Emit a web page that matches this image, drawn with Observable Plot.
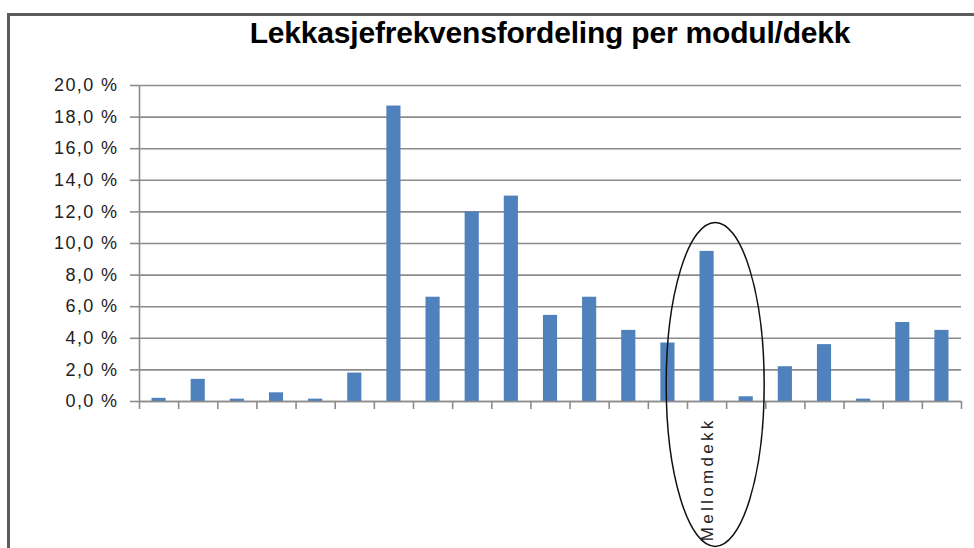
<!DOCTYPE html>
<html>
<head>
<meta charset="utf-8">
<script src="https://cdn.jsdelivr.net/npm/d3@7"></script>
<script src="https://cdn.jsdelivr.net/npm/@observablehq/plot@0.6"></script>
<style>
  body { margin: 0; background: #fff; }
  #wrap { position: relative; width: 974px; height: 548px; overflow: hidden; background: #fff; }
  #frame { position: absolute; left: 7px; top: 13px; width: 1000px; height: 600px;
           border-top: 3px solid #5c5c5c; border-left: 3px solid #5c5c5c; pointer-events: none; }
  #title { box-sizing: border-box; height: 60px; padding: 16px 13px 0 139px; text-align: center;
           font-family: "Liberation Sans", sans-serif; font-weight: bold;
           font-size: 30px; line-height: 1.15; color: #000; white-space: nowrap; letter-spacing: -0.2px; }
  svg { display: block; }
  g[aria-label="y-axis tick label"] text { letter-spacing: 1.4px; }
  g[aria-label="text"] text { letter-spacing: 3.3px; }
</style>
</head>
<body>
<div id="wrap">
  <div id="title">Lekkasjefrekvensfordeling per modul/dekk</div>
  <div id="chart"></div>
  <div id="frame"></div>
</div>
<script>
// Data (share of leak frequency per module/deck, in %)
const categoryIndex = [0,1,2,3,4,5,6,7,8,9,10,11,12,13,14,15,16,17,18,19,20];
const values = [0.2, 1.4, 0.15, 0.55, 0.15, 1.8, 18.7, 6.6, 12.0, 13.0, 5.45, 6.6, 4.5, 3.7, 9.5, 0.3, 2.2, 3.6, 0.15, 5.0, 4.5];
const tickLabels = ["", "", "", "", "", "", "", "", "", "", "", "", "", "", "Mellomdekk", "", "", "", "", "", ""];
const yTicks = [0, 2, 4, 6, 8, 10, 12, 14, 16, 18, 20];
const bandEdges = [0,1,2,3,4,5,6,7,8,9,10,11,12,13,14,15,16,17,18,19,20,21];
// Annotation: ellipse around "Mellomdekk"
const ellipseAt = {i: 14.72, v: 1.05};

const data = categoryIndex.map((i) => ({i, v: values[i], label: tickLabels[i]}));
const labelled = data.filter((d) => d.label !== "");

const gray = "#8c8c8c";
const fmt = (d) => d.toFixed(1).replace(".", ",") + " %";

const plot = Plot.plot({
  width: 974,
  height: 488,
  marginTop: 25,
  marginBottom: 147,
  marginLeft: 139,
  marginRight: 13,
  style: {fontFamily: "Liberation Sans, sans-serif", fontSize: "18px", color: "#222", background: "#fff"},
  x: {type: "linear", domain: [0, 21]},
  y: {domain: [0, 20]},
  marks: [
    Plot.gridY(yTicks, {stroke: gray, strokeOpacity: 1, strokeWidth: 1.6}),
    Plot.axisY({ticks: yTicks, tickSize: 9, tickPadding: 12, tickFormat: fmt, fontSize: 18,
                stroke: gray, strokeWidth: 1.6, label: null}),
    Plot.rectY(data, {x1: "i", x2: (d) => d.i + 1, y: "v", fill: "#4f81bd", insetLeft: 12.5, insetRight: 12.5}),
    Plot.ruleY([0], {stroke: gray, strokeWidth: 1.6}),
    Plot.ruleX([0], {stroke: gray, strokeWidth: 1.6}),
    Plot.axisX({ticks: bandEdges, tickSize: 8, tickFormat: () => "", stroke: gray, strokeWidth: 1.6, label: null}),
    Plot.text(labelled, {x: (d) => d.i + 0.5, y: 0, text: "label", rotate: -90, textAnchor: "end",
                         dy: 16, fontSize: 17, fill: "#222"}),
    (index, scales) => {
      const g = d3.create("svg:g");
      g.append("ellipse")
        .attr("cx", scales.x(ellipseAt.i))
        .attr("cy", scales.y(ellipseAt.v))
        .attr("rx", 49)
        .attr("ry", 162)
        .attr("fill", "none")
        .attr("stroke", "#111")
        .attr("stroke-width", 1.5);
      return g.node();
    }
  ]
});
document.getElementById("chart").appendChild(plot);
</script>
</body>
</html>
